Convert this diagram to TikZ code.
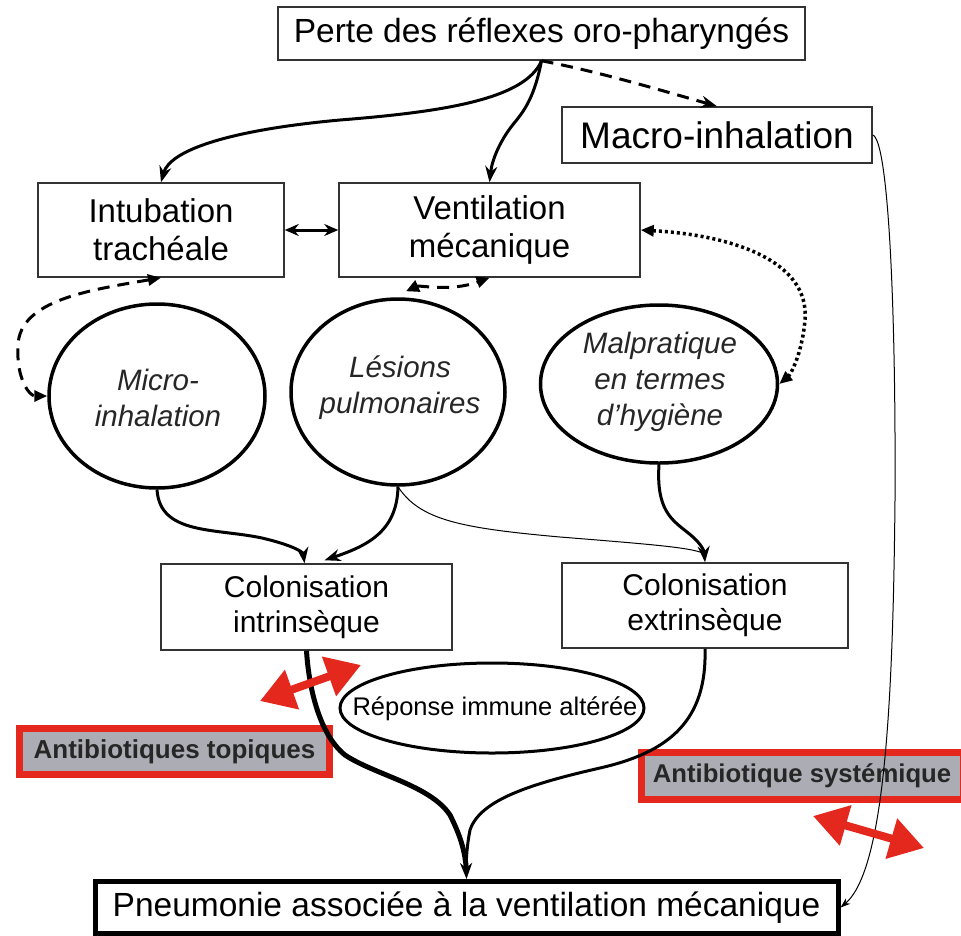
\documentclass[tikz,border=0pt]{standalone}
\usepackage{fontspec}
\setmainfont{Liberation Sans}
\usetikzlibrary{shapes.geometric,arrows.meta,calc}
\definecolor{abred}{RGB}{228,40,30}
\definecolor{abgray}{RGB}{172,172,180}
\tikzset{
  box/.style={draw=black!80, line width=1.5pt, inner sep=0pt, align=center, fill=white},
  circ/.style={ellipse, draw=black, line width=3.5pt, inner sep=0pt},
  ctext/.style={inner sep=0pt, align=center, font=\fontsize{29.5}{36}\selectfont\itshape, text=black!85},
  abbox/.style={draw=abred, line width=7pt, fill=abgray, inner sep=0pt, text=black!85},
  thick arr/.style={line width=3pt, -{Stealth[length=16pt,width=12pt]}},
  thin arr/.style={line width=1pt, -{Stealth[length=10pt,width=7pt]}},
  redarr/.style={draw=abred, line width=8pt, {Triangle[length=34pt,width=40pt]}-{Triangle[length=34pt,width=40pt]}}
}
\begin{document}
\begin{tikzpicture}[x=1pt,y=-1pt]
\useasboundingbox (0,0) rectangle (961,935);
% nodes
\node[box, minimum width=527pt, minimum height=53pt, font=\fontsize{33.5}{38}\selectfont] (perte) at (541.5,33.5) {Perte des réflexes oro-pharyngés};
\node[box, minimum width=310pt, minimum height=56pt, font=\fontsize{37}{40}\selectfont] (macro) at (717,135) {Macro-inhalation};
\node[box, minimum width=246pt, minimum height=94pt, font=\fontsize{33}{38}\selectfont] (intub) at (161,230) {Intubation\\trachéale};
\node[box, minimum width=301pt, minimum height=94pt, font=\fontsize{33}{38}\selectfont] (vent) at (489.5,230) {Ventilation\\mécanique};
\node[circ, minimum width=216pt, minimum height=184pt] (micro) at (157,396) {};
\node[ctext] (microt) at (158,398) {Micro-\\inhalation};
\node[circ, minimum width=214pt, minimum height=186pt] (lesions) at (398,392) {};
\node[ctext] (lesionst) at (400,388) {Lésions\\pulmonaires};
\node[circ, minimum width=237pt, minimum height=158pt] (malp) at (659,384) {};
\node[ctext] (malpt) at (660,382) {Malpratique\\en termes\\d'hygiène};
\node[box, minimum width=291pt, minimum height=86pt, font=\fontsize{30}{35}\selectfont] (colint) at (306.5,607) {Colonisation\\intrinsèque};
\node[box, minimum width=286pt, minimum height=85pt, font=\fontsize{30}{35}\selectfont] (colext) at (705,605.5) {Colonisation\\extrinsèque};
\node[ellipse, draw=black, line width=3pt, minimum width=304pt, minimum height=90pt, inner sep=0pt] (reponse) at (492,708) {};
\node[inner sep=0pt, font=\fontsize{25.5}{30}\selectfont] (reponset) at (495,709) {Réponse immune altérée};
\node[abbox, minimum width=310pt, minimum height=46pt, font=\fontsize{26}{30}\selectfont\bfseries] (abtop) at (174.5,751.5) {Antibiotiques topiques};
\node[abbox, minimum width=322pt, minimum height=47pt, font=\fontsize{25.7}{30}\selectfont\bfseries] (absys) at (802,776) {Antibiotique systémique};
\node[draw=black, line width=5pt, inner sep=0pt, minimum width=743pt, minimum height=52pt, fill=white, font=\fontsize{33.5}{38}\selectfont] (pneu) at (466.5,907.5) {Pneumonie associée à la ventilation mécanique};
% connectors from top
\draw[thick arr] (perte.south) .. controls (525,100) and (440,112) .. (340,120) .. controls (230,130) and (170,150) .. (intub.north);
\draw[thick arr] (perte.south) .. controls (535,95) and (525,110) .. (515,122) .. controls (500,140) and (492,160) .. (vent.north);
\draw[thick arr, dash pattern=on 12pt off 8pt] (perte.south) .. controls (600,72) and (660,90) .. (macro.north);
\draw[thin arr] (macro.east) .. controls (888,140) and (896,300) .. (895,500) .. controls (893,700) and (885,870) .. (pneu.east);
\draw[line width=3pt, {Stealth[length=14pt,width=12pt]}-{Stealth[length=14pt,width=12pt]}] (intub.east) -- (vent.west);
% dashed / dotted double arrows
\draw[line width=3pt, dash pattern=on 12pt off 8pt, {Triangle[length=13pt,width=11pt]}-{Triangle[length=13pt,width=11pt]}] (intub.south) .. controls (90,290) and (20,300) .. (18,345) .. controls (16,380) and (30,396) .. (micro.west);
\draw[line width=3pt, dash pattern=on 12pt off 8pt, {Triangle[length=13pt,width=12pt]}-{Triangle[length=13pt,width=11pt]}] ($(lesions.north)+(8,-6)$) .. controls (420,285) and (450,292) .. (vent.south);
\draw[line width=3.5pt, dash pattern=on 3pt off 3pt, {Triangle[length=13pt,width=11pt]}-{Triangle[length=13pt,width=11pt]}] (vent.east) .. controls (730,235) and (810,260) .. (805,320) .. controls (802,355) and (790,375) .. (malp.east);
% to colonisation
\draw[thick arr] (micro.south) .. controls (160,535) and (215,528) .. (262,538) .. controls (292,545) and (303,552) .. ($(colint.north)+(-2,0)$);
\draw[thick arr] (lesions.south) .. controls (397,530) and (370,545) .. ($(colint.north)+(18,-3)$);
\draw[line width=1pt] (lesions.south) .. controls (420,520) and (460,528) .. (560,537) .. controls (660,545) and (695,548) .. ($(colext.north)+(0,-8)$);
\draw[thick arr] (malp.south) .. controls (656,510) and (672,520) .. (687,532) .. controls (700,542) and (704,550) .. (colext.north);
% to pneumonie
\draw[line width=5pt] (colint.south) .. controls (309,690) and (320,735) .. (345,755) .. controls (375,775) and (430,785) .. (450,815) .. controls (460,835) and (465,850) .. ($(pneu.north)+(0,-8)$);
\draw[thick arr] (colext.south) .. controls (707,720) and (670,752) .. (600,768) .. controls (530,784) and (480,800) .. (470,830) .. controls (467,845) and (466,860) .. (pneu.north);
% red arrows
\coordinate (r1a) at (260,701);
\coordinate (r1b) at (361,665);
\coordinate (r2a) at (813,816);
\coordinate (r2b) at (924,848);
\draw[redarr] (r1a) -- (r1b);
\draw[redarr] (r2a) -- (r2b);
\end{tikzpicture}
\end{document}
